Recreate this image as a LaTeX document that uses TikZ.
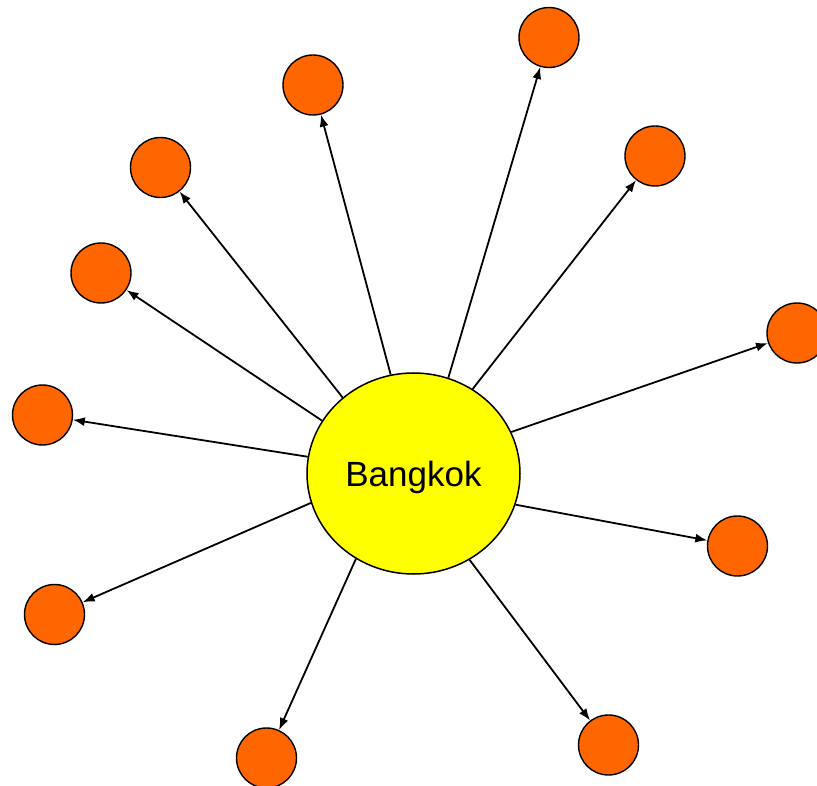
\documentclass[tikz,border=0pt]{standalone}
\usepackage{fontspec}
\setmainfont{Liberation Sans}
\usetikzlibrary{shapes.geometric,arrows.meta}
\definecolor{hubyellow}{HTML}{FFFF00}
\definecolor{cityorange}{HTML}{FF6600}
\begin{document}
\begin{tikzpicture}[x=1pt,y=-1pt,
  hub/.style={ellipse,draw=black,line width=1.5pt,fill=hubyellow,
    minimum width=213pt,minimum height=201pt,inner sep=0pt,text depth=0pt,
    font=\fontsize{35}{40}\selectfont},
  city/.style={circle,draw=black,line width=1.4pt,fill=cityorange,minimum size=60pt,inner sep=0pt},
  link/.style={line width=1.8pt,-{Latex[length=12pt,width=9pt]}}]
\useasboundingbox (0,0) rectangle (817,786);
\node[hub] (bkk) at (413.5,473.5) {Bangkok};
\node[city] (c1) at (549,37.5) {};
\node[city] (c2) at (313,85) {};
\node[city] (c3) at (160.5,167.5) {};
\node[city] (c4) at (655,156) {};
\node[city] (c5) at (101,273) {};
\node[city] (c6) at (797,333) {};
\node[city] (c7) at (42.5,415) {};
\node[city] (c8) at (737.5,546) {};
\node[city] (c9) at (54.5,614.5) {};
\node[city] (c10) at (266.5,758) {};
\node[city] (c11) at (608.5,745) {};
% each spoke leaves the hub at its own border angle
\foreach \c/\a in {c1/70.7,c2/103.4,c3/133,c4/55.8,c5/150.9,c6/23.7,
                   c7/171.1,c8/343.9,c9/196.1,c10/236.5,c11/303.9}
  \draw[link] (bkk.\a) -- (\c);
\end{tikzpicture}
\end{document}
